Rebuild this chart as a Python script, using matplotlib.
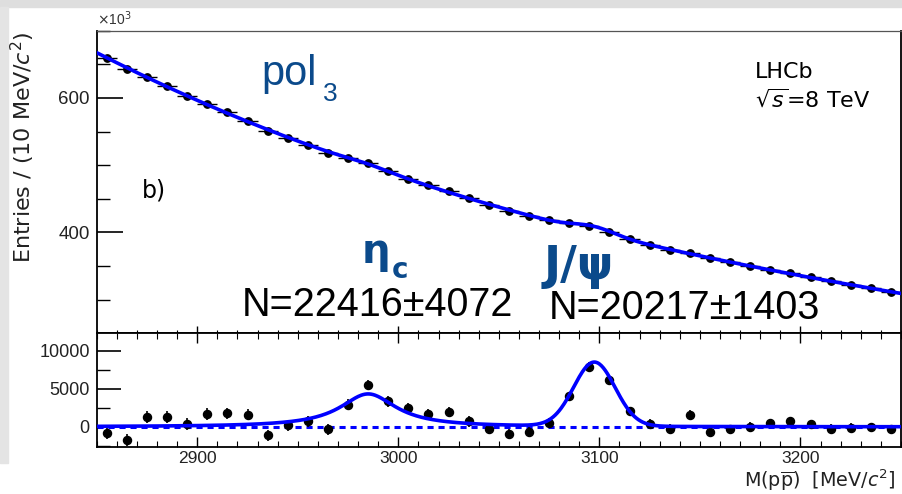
import matplotlib
matplotlib.use("Agg")
import matplotlib.pyplot as plt
import numpy as np
from matplotlib.ticker import MultipleLocator
from matplotlib.patches import Rectangle

# bin centres, 10 MeV bins
mass = np.arange(2855, 3250, 10)

# top panel: entries per bin (x10^3)
entries = [658.9, 643.1, 631.8, 617.9, 603.3, 591.5, 578.8, 566.2, 551.4, 541.0,
           530.2, 518.2, 510.7, 503.0, 490.8, 480.2, 469.9, 461.1, 450.9, 441.3,
           432.4, 424.5, 417.8, 413.7, 410.2, 401.2, 390.1, 381.7, 374.5, 369.8,
           361.3, 355.6, 350.0, 344.6, 339.2, 333.3, 327.3, 322.1, 316.9, 311.5]

# bottom panel: background-subtracted entries
resid = [-760, -1770, 1330, 1330, 360, 1690, 1780, 1600, -1100, 180,
         710, -310, 2930, 5500, 3370, 2490, 1690, 1960, 710, -270,
         -880, -620, 530, 4000, 7900, 6100, 2050, 360, -220, 1560,
         -700, -310, 0, 440, 760, 360, -220, -100, 0, -250]

errs = [812, 802, 795, 786, 777, 769, 761, 752, 743, 736,
        728, 720, 715, 709, 701, 693, 686, 679, 672, 664,
        658, 652, 646, 643, 640, 633, 625, 618, 612, 608,
        601, 596, 592, 587, 582, 577, 572, 568, 563, 558]

# fit: pol3 background (x10^3, u=(m-3050)/100) + eta_c BW + J/psi gaussian
bkg_coef = [437.4, -83.5, 12.71, -1.5]
etac_mass, etac_width, etac_peak = 2985.0, 34.0, 4330.0
jpsi_mass, jpsi_sigma, jpsi_peak = 3097.5, 10.3, 8420.0

blue_txt = '#0b4a8b'

m = np.linspace(2850, 3250, 801)
u = (m - 3050) / 100
bkg = np.polyval(bkg_coef[::-1], u)
sig = etac_peak / (1 + (2 * (m - etac_mass) / etac_width) ** 2) \
    + jpsi_peak * np.exp(-0.5 * ((m - jpsi_mass) / jpsi_sigma) ** 2)

plt.rcParams['font.family'] = 'DejaVu Sans'
fig = plt.figure(figsize=(9.03, 4.94), dpi=100)

# grey screenshot border
fig.patches.append(Rectangle((0, 1 - 7 / 494), 1, 7 / 494, transform=fig.transFigure,
                             color='#dedede', zorder=0))
fig.patches.append(Rectangle((0, 1 - 463 / 494), 8 / 903, 456 / 494, transform=fig.transFigure,
                             color='#e4e4e4', zorder=0))

left, right = 96.7 / 903, 901 / 903
ax1 = fig.add_axes([left, 1 - 333.3 / 494, right - left, (333.3 - 30.7) / 494])
ax2 = fig.add_axes([left, 1 - 447 / 494, right - left, (447 - 333.3) / 494], sharex=ax1)

# top panel
ax1.errorbar(mass, entries, xerr=5, yerr=np.array(errs) / 1000, fmt='o', color='black',
             ms=5.3, elinewidth=1.0, capsize=0, zorder=3)
ax1.plot(m, bkg + sig / 1000, color='#0000ff', lw=2.6, zorder=4)
ax1.set_xlim(2850, 3250)
ax1.set_ylim(250, 700)
ax1.yaxis.set_major_locator(MultipleLocator(200))
ax1.yaxis.set_minor_locator(MultipleLocator(50))
ax1.xaxis.set_major_locator(MultipleLocator(100))
ax1.xaxis.set_minor_locator(MultipleLocator(10))
ax1.tick_params(axis='y', which='major', direction='in', length=19, width=1.2,
                labelsize=13.5, pad=5, right=False, labelcolor='#222222')
ax1.tick_params(axis='y', which='minor', direction='in', length=9.5, width=1.0, right=False)
ax1.tick_params(axis='x', which='major', direction='in', length=5, width=1.0,
                labelbottom=False, top=False)
ax1.tick_params(axis='x', which='minor', direction='in', length=2.5, width=0.8, top=False)
for lab in ax1.get_yticklabels():
    lab.set_family('Liberation Sans')

ax1.text(0.0, 1.008, r'$\times$10$^3$', transform=ax1.transAxes, fontsize=10,
         family='Liberation Sans', ha='left', va='bottom', color='#333333')
ax1.text(2931.9, 618.8, 'pol', fontsize=30, family='Liberation Sans', color=blue_txt,
         va='baseline')
ax1.text(2962.5, 594.9, '3', fontsize=19, family='Liberation Sans', color=blue_txt,
         va='baseline')
ax1.text(2872.3, 452.6, 'b)', fontsize=17, va='baseline')
ax1.text(3177.5, 629.9, 'LHCb', fontsize=16, va='baseline')
ax1.text(3177.5, 587.5, r'$\sqrt{s}$=8 TeV', fontsize=16, va='baseline')
ax1.text(2982.0, 354.2, 'η', fontsize=29, fontweight='bold',
         color=blue_txt, va='baseline')
ax1.text(2996.5, 331.8, 'c', fontsize=20, fontweight='bold',
         color=blue_txt, va='baseline')
ax1.text(3072.4, 331.3, 'J/ψ', fontsize=33, fontweight='bold',
         color=blue_txt, va='baseline')
ax1.text(2922, 276, 'N=22416±4072', fontsize=28.5, family='Liberation Sans', va='baseline')
ax1.text(3075, 271, 'N=20217±1403', fontsize=28.5, family='Liberation Sans', va='baseline')

# bottom panel
ax2.errorbar(mass, resid, yerr=errs, fmt='o', color='black', ms=5.8,
             elinewidth=1.2, capsize=0, zorder=3)
ax2.plot(m, sig, color='#0000ff', lw=2.6, zorder=4)
ax2.plot(m, np.zeros_like(m), color='#0000ff', lw=2.2, ls=(0, (2.0, 1.6)), zorder=2)
ax2.set_ylim(-2650, 12300)
ax2.yaxis.set_major_locator(MultipleLocator(5000))
ax2.yaxis.set_minor_locator(MultipleLocator(2500))
ax2.tick_params(axis='y', which='major', direction='in', length=17, width=1.2,
                labelsize=13, pad=5, right=False, labelcolor='#222222')
ax2.tick_params(axis='y', which='minor', direction='in', length=9, width=1.0, right=False)
ax2.tick_params(axis='x', which='major', direction='in', length=7.5, width=1.0,
                top=True, labelsize=12.5, pad=3, labelcolor='#222222')
ax2.tick_params(axis='x', which='minor', direction='in', length=4, width=0.8, top=True)
ax2.set_yticks([0, 5000, 10000])
for lab in ax2.get_yticklabels() + ax2.get_xticklabels():
    lab.set_family('Liberation Sans')

for ax in (ax1, ax2):
    for s in ax.spines.values():
        s.set_linewidth(1.3)
ax1.spines['top'].set_color('#555555')
ax1.spines['top'].set_linewidth(0.9)

fig.text(23 / 903, 1 - 147 / 494, r'Entries / (10 MeV/$c^2$)', rotation=90,
         ha='center', va='center', fontsize=16, color='#222222')
fig.text(0.992, 0.3 / 494, r'M(p$\overline{\mathrm{p}}$)  [MeV/$c^2$]',
         ha='right', va='bottom', fontsize=13.8, color='#222222')

fig.savefig('out.png', dpi=100)
